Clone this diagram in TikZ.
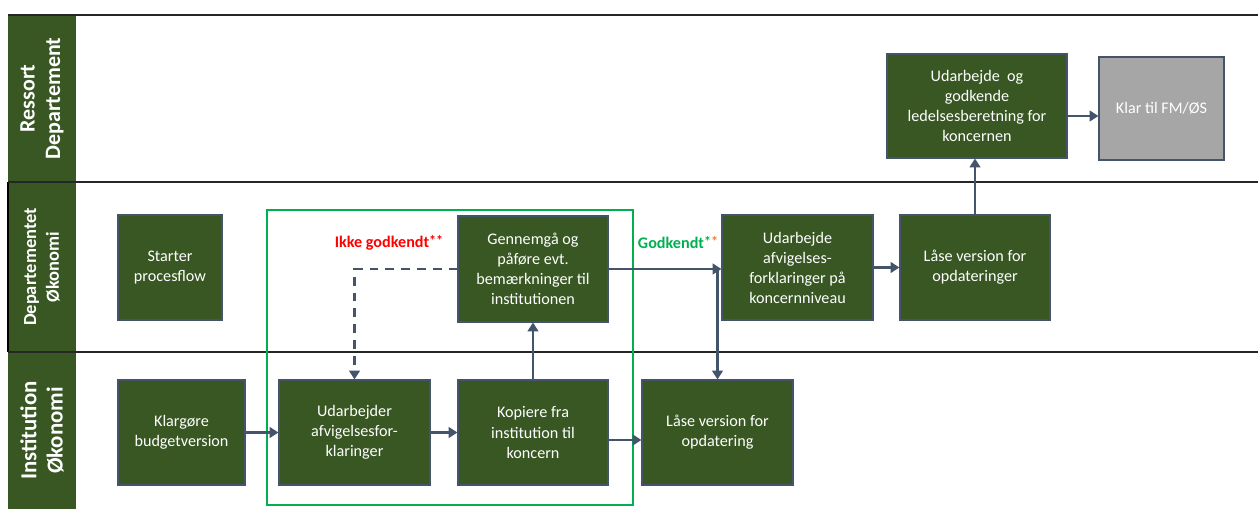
\documentclass[tikz,border=0pt]{standalone}
\usepackage{fontspec}
\setmainfont{Carlito}
\usepackage{tikz}
\usetikzlibrary{arrows.meta,positioning,calc}
\definecolor{boxgreen}{RGB}{56,87,35}
\definecolor{edgeblue}{RGB}{68,84,106}
\definecolor{framegreen}{RGB}{0,176,80}
\definecolor{boxgray}{RGB}{166,166,166}
\definecolor{starorange}{RGB}{237,125,49}
\newcommand{\stars}[1]{{\fontsize{8}{8}\selectfont\raisebox{0.3ex}{#1}}}
\tikzset{
  procbox/.style={draw=edgeblue, line width=0.6pt, fill=boxgreen, text=white, align=center, minimum height=2.1cm, inner sep=2pt, font=\fontsize{9.2}{11.4}\selectfont},
  flow/.style={draw=edgeblue, line width=1.4pt, -{Triangle[length=5pt,width=6pt]}},
  lane/.style={draw=black!85, line width=0.8pt},
  lanehead/.style={rotate=90, text=white, align=center},
  remark/.style={font=\fontsize{9.2}{11}\selectfont\bfseries}
}

\begin{document}
\begin{tikzpicture}
\useasboundingbox (0,0) rectangle (25.16,10.18);
\fill[boxgreen] (0.16,0) rectangle (1.52,9.88);
\draw[black, line width=0.6pt] (0.16,3.14) -- (0.16,6.54);
\draw[lane] (0.16,9.88) -- (25.16,9.88);
\draw[lane] (0.16,6.54) -- (25.16,6.54);
\draw[lane] (0.16,3.14) -- (25.16,3.14);
\node[lanehead, font=\fontsize{12.5}{14.5}\selectfont\bfseries] (ressort) at (0.84,8.21) {Ressort\\Departement};
\node[lanehead, font=\fontsize{10.5}{13}\selectfont\bfseries] (depok) at (0.84,4.84) {Departementet\\Økonomi};
\node[lanehead, font=\fontsize{13}{15}\selectfont\bfseries] (instok) at (0.84,1.57) {Institution\\Økonomi};
\draw[framegreen, line width=1.4pt] (5.34,0.08) rectangle (12.66,5.98);
\node[procbox, minimum width=2.08cm] (start) at (3.40,4.83) {Starter\\procesflow};
\node[procbox, minimum width=2.54cm] (klar) at (3.63,1.53) {Klargøre\\budgetversion};
\node[procbox, minimum width=3.02cm] (udarb) at (7.09,1.53) {Udarbejder\\afvigelsesfor-\\klaringer};
\node[procbox, minimum width=3.0cm] (kopi) at (10.66,1.53) {Kopiere fra\\institution til\\koncern};
\node[procbox, minimum width=3.0cm, minimum height=2.12cm] (gennem) at (10.66,4.80) {Gennemgå og\\påføre evt.\\bemærkninger til\\institutionen};
\node[procbox, minimum width=3.02cm] (laase1) at (14.35,1.53) {Låse version for\\opdatering};
\node[procbox, minimum width=3.02cm] (afvig) at (15.95,4.83) {Udarbejde\\afvigelses-\\forklaringer på\\koncernniveau};
\node[procbox, minimum width=3.0cm] (laase2) at (19.50,4.83) {Låse version for\\opdateringer};
\node[procbox, minimum width=3.6cm, minimum height=2.08cm] (ledelse) at (19.54,8.06) {Udarbejde~ og\\godkende\\ledelsesberetning for\\koncernen};
\node[procbox, fill=boxgray, minimum width=2.5cm, minimum height=2.06cm] (fmoes) at (23.23,8.01) {Klar til FM/ØS};
\node[remark, text=red] (ikke) at (7.78,5.32) {Ikke godkendt\stars{**}};
\node[remark, text=framegreen] (godk) at (13.56,5.32) {Godkendt\stars{*\textcolor{starorange}{*}}};
\draw[flow] (klar) -- (udarb);
\draw[flow] (udarb) -- (kopi);
\draw[flow] ([yshift=-0.15cm]kopi.east) -- ([yshift=-0.15cm]laase1.west);
\draw[flow] (kopi) -- (gennem);
\draw[flow, dash pattern=on 5pt off 4pt] (gennem.west) -| (udarb.north);
\draw[flow] (gennem.east) -- (gennem.east -| afvig.west);
\draw[flow] (gennem.east -| laase1.north) -- (laase1.north);
\draw[flow] (afvig) -- (laase2);
\draw[flow] (laase2) -- (laase2 |- ledelse.south);
\draw[flow] ([yshift=-0.2cm]ledelse.east) -- ([yshift=-0.2cm]ledelse.east -| fmoes.west);
\end{tikzpicture}
\end{document}
